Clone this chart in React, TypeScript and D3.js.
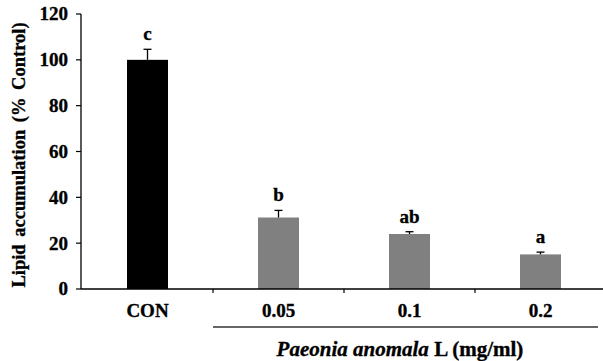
import React from 'react';
import * as d3 from 'd3';

const categories = ['CON', '0.05', '0.1', '0.2'];
const values = [100, 31.2, 24.0, 15.1];
const errors = [4.6, 3.1, 1.0, 1.0];
const letters = ['c', 'b', 'ab', 'a'];
const yTicks = [0, 20, 40, 60, 80, 100, 120];

const W = 603;
const H = 361;
const font = "'Liberation Serif', 'DejaVu Serif', serif";

function App() {
  const y = d3.scaleLinear().domain([0, 120]).range([289, 14]);
  const x = d3.scaleBand().domain(categories).range([82, 606]).padding(0);
  const barW = x.bandwidth() * 0.313;
  const x0 = 81;
  const y0 = y(0);
  // slight outline so the bold text looks as heavy as the scanned figure
  const heavy = { stroke: '#000', strokeWidth: 0.35 };

  return (
    <svg width={W} height={H} style={{ position: 'absolute', left: 0, top: 0, fontFamily: font }}>
      <rect width={W} height={H} fill="#fff" />

      {/* bars */}
      {categories.map((c, i) => {
        const cx = x(c)! + x.bandwidth() / 2;
        const top = y(values[i]);
        const errTop = y(values[i] + errors[i]);
        return (
          <g key={c}>
            <rect x={cx - barW / 2} y={top} width={barW} height={y0 - top}
              fill={i === 0 ? '#000' : '#808080'} />
            <line x1={cx} x2={cx} y1={top} y2={errTop} stroke="#000" strokeWidth={1.3} />
            <line x1={cx - 4} x2={cx + 4} y1={errTop} y2={errTop} stroke="#000" strokeWidth={1.3} />
            <text x={cx} y={errTop - 9} textAnchor="middle" fontSize={19} fontWeight="bold" {...heavy}>{letters[i]}</text>
          </g>
        );
      })}

      {/* y axis */}
      <line x1={x0} x2={x0} y1={y(120)} y2={y0} stroke="#000" strokeWidth={1.3} />
      {yTicks.map(t => (
        <g key={t}>
          <line x1={x0 - 5} x2={x0} y1={y(t)} y2={y(t)} stroke="#000" strokeWidth={1.2} />
          <text x={68} y={y(t)} dy="0.34em" textAnchor="end" fontSize={19} fontWeight="bold" {...heavy}>{t}</text>
        </g>
      ))}

      {/* x axis */}
      <line x1={x0} x2={606} y1={y0} y2={y0} stroke="#000" strokeWidth={1.3} />
      {categories.map((c, i) => {
        const bx = x(c)! + x.bandwidth();
        return <line key={'t' + i} x1={bx} x2={bx} y1={y0} y2={y0 + 4} stroke="#000" strokeWidth={1.2} />;
      })}
      {categories.map(c => (
        <text key={'l' + c} x={x(c)! + x.bandwidth() / 2} y={317} textAnchor="middle" fontSize={19} fontWeight="bold" {...heavy}>{c}</text>
      ))}

      {/* group underline */}
      <line x1={213} x2={598} y1={327} y2={327} stroke="#333" strokeWidth={1.6} />
      <text x={400} y={356} textAnchor="middle" fontSize={21} fontWeight="bold" {...heavy}>
        <tspan fontStyle="italic">Paeonia anomala</tspan> L (mg/ml)
      </text>

      {/* y title */}
      <text transform="translate(25,155) rotate(-90)" textAnchor="middle" fontSize={18.5} fontWeight="bold" wordSpacing={3} {...heavy}>
        Lipid accumulation (% Control)
      </text>
    </svg>
  );
}

export default App;
